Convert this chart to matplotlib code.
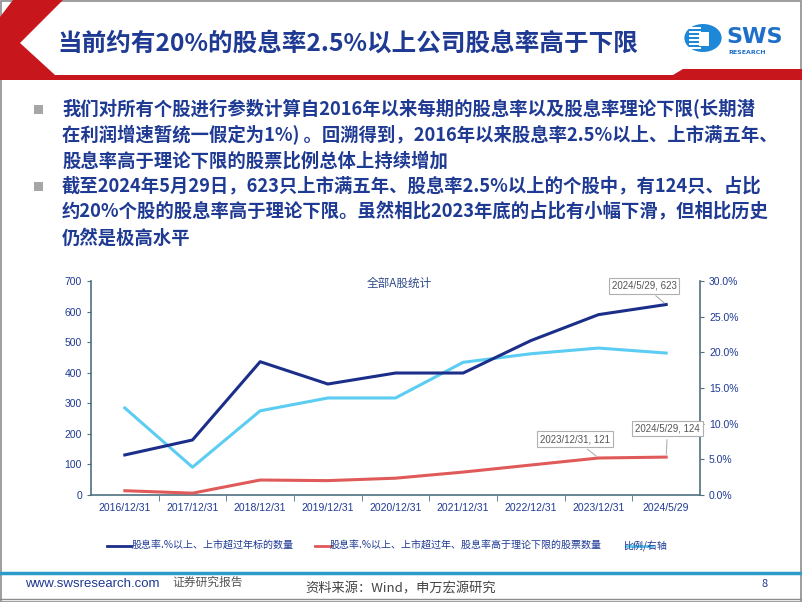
import matplotlib
matplotlib.use('Agg')
import matplotlib.pyplot as plt
from matplotlib.patches import Polygon, Rectangle, Circle
from matplotlib.lines import Line2D
from matplotlib.ticker import FuncFormatter, FixedLocator

plt.rcParams['font.family'] = ['Noto Sans CJK SC', 'DejaVu Sans']

# ===== data =====
dates = ['2016/12/31', '2017/12/31', '2018/12/31', '2019/12/31', '2020/12/31',
         '2021/12/31', '2022/12/31', '2023/12/31', '2024/5/29']
n_total = [131, 180, 436, 363, 399, 399, 505, 590, 623]      # 股息率2.5%以上、上市满五年
n_above = [14, 6, 49, 47, 55, 75, 98, 121, 124]               # 且高于理论下限
ratio = [0.122, 0.039, 0.118, 0.136, 0.136, 0.186, 0.198, 0.206, 0.199]  # 右轴

legend_labels = ['股息率.%以上、上市超过年标的数量',
                 '股息率.%以上、上市超过年、股息率高于理论下限的股票数量',
                 '比例/右轴']

title = '当前约有20%的股息率2.5%以上公司股息率高于下限'
bullets = [
    ['我们对所有个股进行参数计算自2016年以来每期的股息率以及股息率理论下限(长期潜',
     '在利润增速暂统一假定为1%) 。回溯得到，2016年以来股息率2.5%以上、上市满五年、',
     '股息率高于理论下限的股票比例总体上持续增加'],
    ['截至2024年5月29日，623只上市满五年、股息率2.5%以上的个股中，有124只、占比',
     '约20%个股的股息率高于理论下限。虽然相比2023年底的占比有小幅下滑，但相比历史',
     '仍然是极高水平'],
]

DARK = '#1B2E8A'
RED = '#E05A5A'
LIGHT = '#5CCDF2'
NAVY_TXT = '#1F3A93'
SPINE = '#4F6F80'
W, H = 802, 602

fig = plt.figure(figsize=(W / 100, H / 100), dpi=100)
fig.patch.set_facecolor('white')


def px(x, y):
    return (x / W, 1 - y / H)


# slide frame
fig.patches.append(Rectangle((0.5 / W, 0.5 / H), 1 - 1.5 / W, 1 - 1.5 / H,
                             transform=fig.transFigure, facecolor='none',
                             edgecolor='#8C8C8C', lw=1.2))

# ===== header =====
red_poly = [px(0, 17), px(13, 0), px(63, 0), px(20, 43), px(55, 75), px(673, 75),
            px(683, 69), px(802, 69), px(802, 80), px(0, 80)]
fig.patches.append(Polygon(red_poly, closed=True, transform=fig.transFigure,
                           facecolor='#C8161D', edgecolor='none'))
fig.text(*px(57, 44), title, fontsize=17.7, fontweight='bold', color=NAVY_TXT,
         va='center', ha='left')

# logo
fig.patches.append(Circle(px(703, 38), 14 / H, transform=fig.transFigure,
                          facecolor='#1E88D8', edgecolor='none'))
for yy in range(27, 51, 4):
    fig.patches.append(Rectangle(px(689, yy + 1.5), 12 / W, 1.5 / H,
                                 transform=fig.transFigure, facecolor='white',
                                 edgecolor='none'))
fig.patches.append(Rectangle(px(699, 46), 10 / W, 14 / H, transform=fig.transFigure,
                             facecolor='white', edgecolor='none'))
fig.text(*px(726, 37), 'SWS', fontsize=16, fontweight='bold', color='#1E6FC8',
         family='DejaVu Sans', va='center', ha='left')
fig.text(*px(728, 52), 'RESEARCH', fontsize=4.5, fontweight='bold', color='#1E6FC8',
         family='DejaVu Sans', va='center', ha='left')

# ===== bullets =====
y0s = [109, 186]
for y0, lines in zip(y0s, bullets):
    fig.patches.append(Rectangle(px(34, y0 + 5), 9 / W, 9 / H, transform=fig.transFigure,
                                 facecolor='#A6A6A6', edgecolor='none'))
    for k, line in enumerate(lines):
        fig.text(*px(62, y0 + k * 26), line, fontsize=13.2, fontweight='bold',
                 color=NAVY_TXT, va='center', ha='left')

# ===== chart =====
ax = fig.add_axes([91 / W, 1 - 495 / H, 609 / W, 214 / H])
x = list(range(len(dates)))
ax.plot(x, n_total, color=DARK, lw=2.2, zorder=3)
ax.plot(x, n_above, color=RED, lw=2.2, zorder=3)
ax.set_ylim(0, 700)
ax.set_xlim(-0.5, len(dates) - 0.5)
ax.set_yticks(range(0, 701, 100))
ax.set_xticks(x)
ax.set_xticklabels(dates)
ax.xaxis.set_minor_locator(FixedLocator([i + 0.5 for i in range(len(dates) - 1)]))
ax.tick_params(axis='x', which='major', length=0, pad=6, labelsize=7.5, colors=NAVY_TXT)
ax.tick_params(axis='x', which='minor', length=4, color=SPINE)
ax.tick_params(axis='y', length=3, labelsize=7.5, colors=NAVY_TXT, color=SPINE)
for lab in ax.get_xticklabels() + ax.get_yticklabels():
    lab.set_family(['Liberation Sans', 'DejaVu Sans'])
for s in ['top', 'right']:
    ax.spines[s].set_visible(False)
for s in ['left', 'bottom']:
    ax.spines[s].set_color(SPINE)
    ax.spines[s].set_linewidth(1.2)
ax.set_facecolor('none')

ax2 = ax.twinx()
ax2.plot(x, ratio, color=LIGHT, lw=2.2, zorder=2)
ax2.set_ylim(0, 0.30)
ax2.set_yticks([i * 0.05 for i in range(7)])
ax2.yaxis.set_major_formatter(FuncFormatter(lambda v, p: f'{v * 100:.1f}%'))
ax2.tick_params(axis='y', length=3, labelsize=7.5, colors=NAVY_TXT, color=SPINE)
for lab in ax2.get_yticklabels():
    lab.set_family(['Liberation Sans', 'DejaVu Sans'])
for s in ['top', 'left', 'bottom']:
    ax2.spines[s].set_visible(False)
ax2.spines['right'].set_color(SPINE)
ax2.spines['right'].set_linewidth(1.2)
ax.set_zorder(ax2.get_zorder() + 1)

ax.text(0.507, 0.99, '全部A股统计', transform=ax.transAxes, fontsize=8.4,
        color='#2E4A8A', ha='center', va='center')

box = dict(boxstyle='square,pad=0.3', facecolor='white', edgecolor='#B0B0B0', lw=0.8)
arrow = dict(arrowstyle='-', color='#B0B0B0', lw=0.8)
anns = [(8, n_total[8], (-16, 10)), (7, n_above[7], (-17, 10)), (8, n_above[8], (1, 17))]
for xi, yi, off in anns:
    ax.annotate(f'{dates[xi]}, {yi}', xy=(xi, yi), xytext=off, textcoords='offset points',
                fontsize=7, color='#555555', ha='center', va='bottom', bbox=box,
                arrowprops=arrow, family=['Liberation Sans', 'DejaVu Sans'], zorder=5)

# legend (drawn by hand to mimic slide layout)
leg_y = 546
for xt, lab in zip([132, 330, 623], legend_labels):
    fig.text(*px(xt, leg_y), lab, fontsize=7.2, color=NAVY_TXT, va='center', ha='left')
for (x0, x1), col in zip([(107, 131), (315, 331), (626, 652)], [DARK, RED, LIGHT]):
    fig.lines.append(Line2D([x0 / W, x1 / W], [1 - leg_y / H] * 2, transform=fig.transFigure,
                            color=col, lw=2))

# ===== footer =====
fig.lines.append(Line2D([0, 1], [1 - 573 / H] * 2, transform=fig.transFigure,
                        color='#2D9CCB', lw=2.5))
fig.lines.append(Line2D([0, 1], [1 - 599 / H] * 2, transform=fig.transFigure,
                        color='#8C8C8C', lw=1))
fig.text(*px(25, 584), 'www.swsresearch.com', fontsize=9.5, color=NAVY_TXT,
         family=['Liberation Sans', 'DejaVu Sans'], va='center', ha='left')
fig.text(*px(172, 582), '证券研究报告', fontsize=8.5, color='#555555', va='center', ha='left')
fig.text(*px(305, 589), '资料来源：Wind，申万宏源研究', fontsize=9.5, color='#444444',
         va='center', ha='left')
fig.text(*px(765, 584), '8', fontsize=8, color=NAVY_TXT, va='center', ha='center')

fig.savefig('out.png', dpi=100)
